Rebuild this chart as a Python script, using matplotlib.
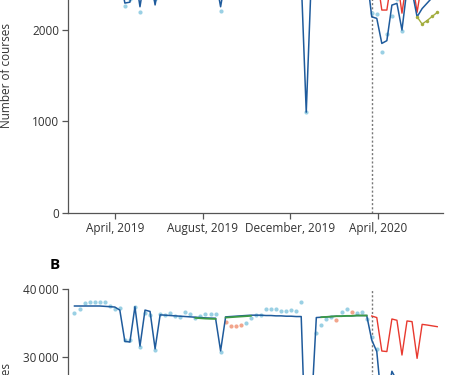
import numpy as np
import matplotlib
matplotlib.use("Agg")
import matplotlib.pyplot as plt

plt.rcParams['font.family'] = ['Open Sans', 'DejaVu Sans']

# weekly data, Monday of each week
weeks = np.arange(np.datetime64('2019-02-04'), np.datetime64('2020-06-23'), np.timedelta64(7, 'D'))
lockdown = np.datetime64('2020-03-23')
nan = np.nan

# ---- panel A ----
a_fit = [2620, 2620, 2620, 2620, 2620, 2620, 2615, 2610, 2605, 2590,
         2290, 2300, 2620, 2250, 2600, 2590, 2270, 2580, 2580, 2575,
         2575, 2570, 2570, 2565, 2565, 2560, 2560, 2560, 2560, 2250,
         2570, 2570, 2575, 2575, 2580, 2580, 2580, 2580, 2575, 2575,
         2575, 2570, 2570, 2570, 2565, 2565, 1100, 2560, 2570, 2575,
         2580, 2580, 2585, 2585, 2590, 2590, 2595, 2600, 2600, 2140,
         2123, 1850, 1880, 2268, 2287, 1996, 2450, 2420, 2140, 2230,
         2290, 2350, 2400]
a_obs = [2550, 2590, 2660, 2670, 2670, 2680, 2670, 2620, 2590, 2600,
         2257, 2330, 2610, 2195, 2560, 2550, 2330, 2560, 2550, 2570,
         2540, 2530, 2580, 2550, 2520, 2540, 2560, 2560, 2560, 2203,
         2500, 2450, 2450, 2450, 2480, 2520, 2550, 2550, 2600, 2600,
         2600, 2580, 2580, 2590, 2580, 2670, 1100, 2500, 2400, 2450,
         2500, 2520, 2500, 2570, 2590, 2590, 2560, 2570, 2500, 2180,
         2175, 1760, 1950, 2150, 2330, 1990, 2500, 2480, 2450, 2460,
         2470, 2480, 2490]
a_pred = [nan] * 59 + [2600, 2590, 2214, 2214, 2580, 2570, 2180, 2560,
                       2550, 2190, 2530, 2520, 2510, 2500]
a_adj = [nan] * 68 + [2140, 2061, 2100, 2145, 2188]

# ---- panel B ----
b_fit = [37500, 37500, 37500, 37500, 37500, 37500, 37450, 37400, 37350, 36900,
         32300, 32200, 37400, 31600, 36900, 36700, 31200, 36200, 36150, 36100,
         36050, 36000, 35950, 35900, 35850, 35800, 35750, 35720, 35700, 30900,
         35900, 35950, 36000, 36050, 36100, 36150, 36150, 36150, 36100, 36100,
         36050, 36050, 36000, 36000, 35950, 35950, 14000, 22000, 35800, 35850,
         35900, 35950, 36000, 36000, 36050, 36050, 36100, 36100, 36100, 32500,
         30800, 23000, 23500, 27900, 26500, 23000, 26800, 27000, 24000, 25500,
         26000, 26500, 27000]
b_base = [nan] * 24 + [35750, 35700, 35650, 35620, 35600, nan,
                       35800, 35850, 35900, 35950, 36000, 36050] + [nan] * 13 + \
         [35850, 35900, 35950, 36000, 36000, 36050, 36050, 36100, 36100, 36100] + [nan] * 14
b_obs = [36400, 37000, 37900, 38040, 38040, 38140, 38040, 37500, 37000, 37200,
         32500, 32500, 37300, 31400, 36400, 36200, 31000, 36300, 36180, 36420,
         36030, 35930, 36670, 36320, 35780, 36080, 36270, 36270, 36270, 30690,
         nan, nan, nan, nan, 34950, 35780, 36180, 36180, 37010, 37050,
         37050, 36710, 36710, 36860, 36760, 38040, 14000, 22000, 33480, 34700,
         35590, 35930, nan, 36670, 37000, nan, 36500, 36670, 35590, 32900,
         31200, 22500, 23000, 27000, 26000, 23500, 26500, 26800, 23500, 25000,
         25500, 26000, 26500]
b_excl = [nan] * 30 + [35200, 34560, 34560, 34700] + [nan] * 18 + \
         [35500, nan, nan, 36600] + [nan] * 17
b_pred = [nan] * 59 + [36030, 35800, 30880, 30800, 35590, 35400, 30290, 35300,
                       35200, 29800, 34800, 34700, 34580, 34460]

dark_blue = '#1f5b9c'
light_blue = '#9ad0e4'
red = '#e8392f'
green = '#3c9a45'
olive = '#a3ad3e'
salmon = '#f2a58c'
grey = '#555555'

fig = plt.figure(figsize=(4.49, 3.75), dpi=100)
W, H = 449.0, 375.0
axA = fig.add_axes([68 / W, (H - 213) / H, 375 / W, 275 / H])
axB = fig.add_axes([68 / W, (H - 561) / H, 375 / W, 272 / H])

xt = [np.datetime64('2019-04-01'), np.datetime64('2019-08-01'),
      np.datetime64('2019-12-01'), np.datetime64('2020-04-01')]

def style(ax):
    for s in ['top', 'right']:
        ax.spines[s].set_visible(False)
    for s in ['left', 'bottom']:
        ax.spines[s].set_color(grey)
        ax.spines[s].set_linewidth(0.9)
    ax.tick_params(direction='out', length=4.5, width=0.9, color=grey,
                   labelsize=8.5, labelcolor='#333333', pad=2)
    ax.set_xlim(np.datetime64('2019-01-26'), np.datetime64('2020-06-30'))
    ax.axvline(lockdown, color='#777777', ls=(0, (1.5, 1.5)), lw=1.0, zorder=1)
    ax.set_xticks(xt)

# panel A
axA.plot(weeks, a_obs, 'o', color=light_blue, ms=3, mec='none', zorder=2)
axA.plot(weeks, a_pred, color=red, lw=1.0, zorder=3)
axA.plot(weeks, a_fit, color=dark_blue, lw=1.1, zorder=4)
axA.plot(weeks, a_adj, color=olive, lw=1.0, marker='o', ms=2.5, mec='none', zorder=5)
style(axA)
axA.set_ylim(0, 3000)
axA.set_yticks([0, 1000, 2000, 3000])
axA.set_yticklabels(['0', '1000', '2000', ''])  # 3000 lies above the crop
axA.set_xticklabels(['April, 2019', 'August, 2019', 'December, 2019', 'April, 2020'])

# panel B (lower half lies below the crop)
axB.plot(weeks, b_obs, 'o', color=light_blue, ms=3, mec='none', zorder=2)
axB.plot(weeks, b_excl, 'o', color=salmon, ms=3, mec='none', zorder=2)
axB.plot(weeks, b_pred, color=red, lw=1.0, zorder=3)
axB.plot(weeks, b_fit, color=dark_blue, lw=1.1, zorder=4)
axB.plot(weeks, b_base, color=green, lw=1.3, zorder=5)
style(axB)
axB.set_ylim(0, 40000)
axB.set_yticks([0, 10000, 20000, 30000, 40000])
axB.set_yticklabels(['', '', '', '30\u2009000', '40\u2009000'])
axB.set_xticklabels([])

fig.text(55 / W, 1 - 265 / H, 'B', ha='center', va='center', fontsize=11, fontweight='bold')
fig.text(7 / W, 1 - 76 / H, 'Number of courses', rotation=90, ha='center', va='center',
         fontsize=8.5, color='#333333')
fig.text(7 / W, 1 - 416 / H, 'Number of courses', rotation=90, ha='center', va='center',
         fontsize=8.5, color='#333333')

fig.savefig('out.png', dpi=100)
